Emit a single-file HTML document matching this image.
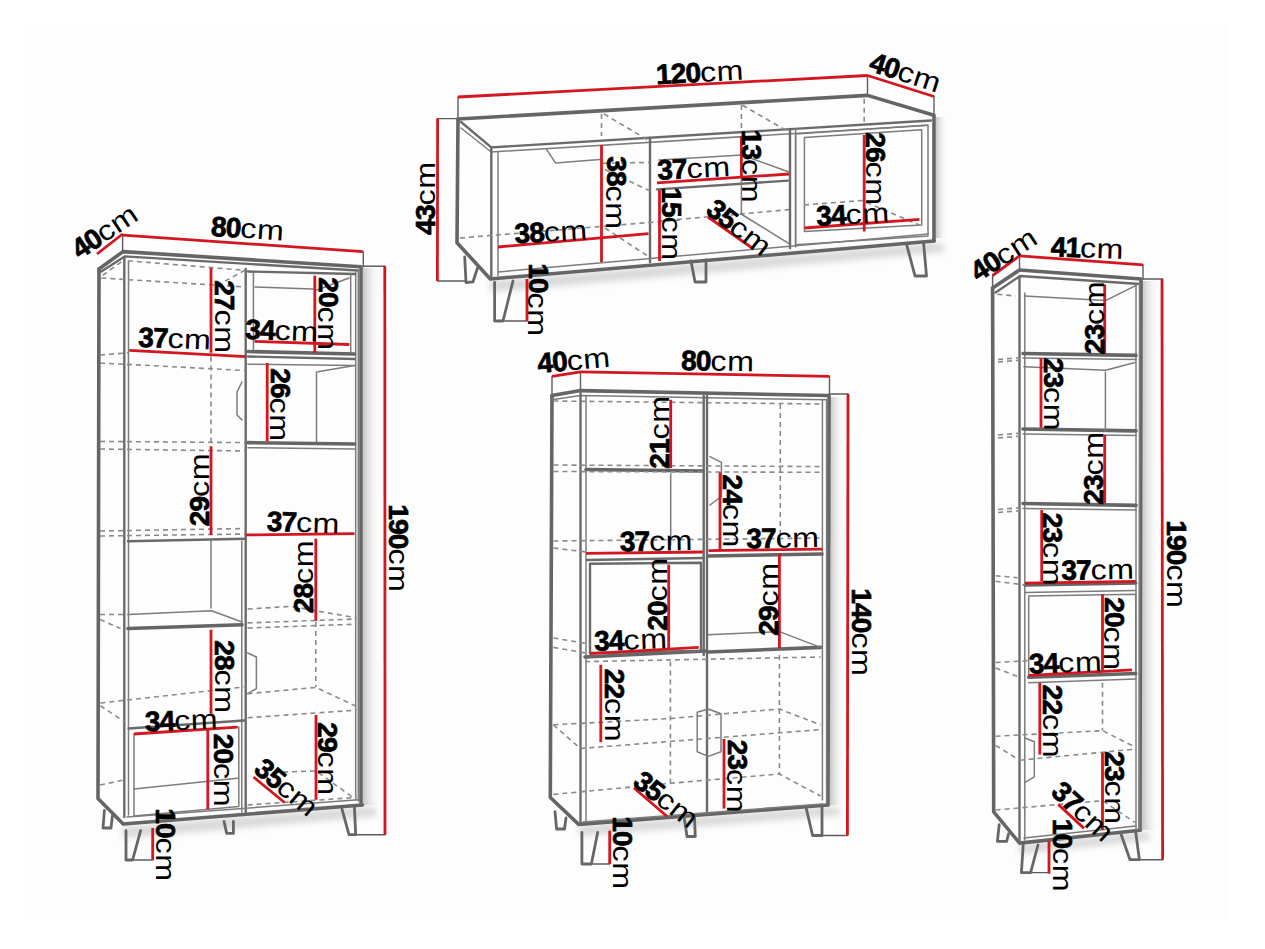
<!DOCTYPE html>
<html><head><meta charset="utf-8"><style>
html,body{margin:0;padding:0;background:#fff;}
svg{display:block;}
polyline,polygon{fill:none;stroke-linejoin:round;stroke-linecap:round;}
.k{stroke:#656565;stroke-width:3.6;}
.m{stroke:#6a6a6a;stroke-width:2.4;}
.t{stroke:#7c7c7c;stroke-width:1.5;}
.g{stroke:#666;stroke-width:2.8;}
.e{stroke:#5c5c5c;stroke-width:1.4;}
.d{stroke:#8a8a8a;stroke-width:1.6;stroke-dasharray:5 4;stroke-linecap:butt;}
.r{stroke:#d3161f;stroke-width:2.8;stroke-linecap:butt;}
.tx{font-family:"Liberation Sans",sans-serif;fill:#000;}
.b{font-weight:bold;stroke:#000;stroke-width:0.7px;}
.u{font-weight:normal;}
</style></head><body>
<svg width="1265" height="949" viewBox="0 0 1265 949">
<defs><linearGradient id="sh" x1="0" x2="1" y1="0" y2="0"><stop offset="0" stop-color="#c6c6c6"/><stop offset="1" stop-color="#fff" stop-opacity="0"/></linearGradient>
<linearGradient id="shb" x1="0" x2="0" y1="0" y2="1"><stop offset="0" stop-color="#d5d5d5"/><stop offset="1" stop-color="#fff" stop-opacity="0"/></linearGradient></defs>
<rect x="0" y="0" width="1265" height="949" fill="#fff"/>
<rect x="24" y="23" width="1203" height="897" fill="#fdfdfd"/>
<rect x="363" y="268" width="19" height="537" fill="url(#sh)"/>
<rect x="830" y="397" width="16" height="408" fill="url(#sh)"/>
<rect x="1142" y="281" width="18" height="549" fill="url(#sh)"/>
<rect x="936" y="117" width="12" height="121" fill="url(#sh)"/>
<filter id="bl" x="-20%" y="-50%" width="140%" height="200%"><feGaussianBlur stdDeviation="3"/></filter>
<g filter="url(#bl)" opacity="0.7">
<polygon style="fill:#c8c8c8;stroke:none" points="490,281 934,243 944,244 944,252 490,292"/>
<polygon style="fill:#c8c8c8;stroke:none" points="123,827 362,807 376,808 376,816 123,838"/>
<polygon style="fill:#c8c8c8;stroke:none" points="579,826 828,807 840,808 840,815 579,836"/>
<polygon style="fill:#c8c8c8;stroke:none" points="1019,845 1140,832 1150,833 1150,840 1019,854"/>
</g>
<polyline class="e" points="458.0,97.0 458.0,119.0"/>
<polyline class="e" points="867.5,75.5 867.5,95.4"/>
<polyline class="e" points="934.0,96.5 934.0,115.3"/>
<polyline class="e" points="437.5,118.6 458.0,118.6"/>
<polyline class="e" points="437.4,281.0 465.0,281.0"/>
<polyline class="e" points="503.0,321.0 527.0,321.0"/>
<polyline class="k" points="458.0,119.0 867.5,95.4 934.0,115.3 934.0,241.0"/>
<polyline class="k" points="458.0,119.0 457.0,242.7 490.3,279.0 934.0,241.0"/>
<polyline class="m" points="461.0,122.0 491.3,147.4 931.0,120.5"/>
<polyline class="t" points="461.0,128.0 491.3,152.0 926.0,125.5"/>
<polyline class="m" points="491.3,147.4 491.3,278.0"/>
<polyline class="t" points="498.0,152.0 498.0,276.0"/>
<polyline class="t" points="546.7,149.6 555.5,162.9 599.8,159.6"/>
<polyline class="m" points="650.0,138.0 650.0,262.0"/>
<polyline class="m" points="790.0,129.0 790.0,248.0"/>
<polyline class="t" points="795.6,128.5 795.6,247.0"/>
<polygon class="t" points="795.6,134.0 928.0,125.0 928.0,236.0 795.6,244.8"/>
<polygon class="t" points="804.4,137.4 921.7,129.7 921.7,224.9 804.4,231.5"/>
<polyline class="m" points="657.0,189.4 787.8,180.6"/>
<polyline class="t" points="659.0,160.0 742.0,155.0 789.0,172.0"/>
<polyline class="t" points="498.0,272.0 928.0,234.0"/>
<polyline class="d" points="460.0,238.0 680.0,220.0"/>
<polyline class="d" points="605.0,228.0 648.4,256.5"/>
<polyline class="d" points="601.5,114.0 601.5,136.0"/>
<polyline class="d" points="604.0,114.0 648.0,140.0"/>
<polyline class="d" points="605.0,169.5 650.0,191.0"/>
<polyline class="d" points="603.0,163.2 650.0,162.4"/>
<polyline class="d" points="659.0,221.0 741.0,214.0 789.0,209.6"/>
<polyline class="t" points="741.0,214.0 789.0,243.6"/>
<polyline class="d" points="741.4,105.0 741.4,132.0"/>
<polyline class="d" points="742.5,105.3 789.0,132.0"/>
<polyline class="t" points="741.4,177.0 741.4,214.0"/>
<polyline class="d" points="864.2,98.7 864.2,123.0"/>
<polyline class="d" points="804.0,205.0 862.0,200.5 919.5,225.0"/>
<polyline class="g" points="464.7,257.0 466.0,282.5 473.0,281.8 477.5,268.0"/>
<polyline class="g" points="494.6,282.5 494.6,321.0 503.0,321.0 513.0,281.0"/>
<polyline class="g" points="691.0,261.0 695.0,282.0 706.0,282.0 706.0,260.0"/>
<polyline class="g" points="906.5,244.0 915.0,276.0 926.5,276.0 923.6,243.0"/>
<polyline class="r" points="458.0,97.0 867.5,75.5"/>
<polyline class="r" points="867.5,75.5 934.0,96.5"/>
<polyline class="r" points="437.6,118.6 437.4,281.0"/>
<polyline class="r" points="527.0,279.0 527.0,321.0"/>
<polyline class="r" points="601.5,145.0 601.5,262.0"/>
<polyline class="r" points="498.0,247.0 648.5,233.7"/>
<polyline class="r" points="659.5,190.0 659.5,261.0"/>
<polyline class="r" points="657.0,182.8 789.0,174.0"/>
<polyline class="r" points="741.4,136.0 741.4,176.0"/>
<polyline class="r" points="708.0,217.0 753.5,249.0"/>
<polyline class="r" points="804.4,228.0 919.5,219.3"/>
<polyline class="r" points="864.2,135.0 864.2,231.5"/>
<g transform="translate(698.0,72.0) rotate(-3)"><text class="tx b" x="-42.2" y="10.0" style="font-size:28px;letter-spacing:-0.8px">120</text><g transform="translate(1.9,0) scale(1.15,1)"><text class="tx u" x="0" y="10.0" style="font-size:28px;letter-spacing:0.5px">cm</text></g></g>
<g transform="translate(904.0,71.5) rotate(18)"><text class="tx b" x="-34.8" y="10.0" style="font-size:28px;letter-spacing:-0.8px">40</text><g transform="translate(-5.5,0) scale(1.15,1)"><text class="tx u" x="0" y="10.0" style="font-size:28px;letter-spacing:0.5px">cm</text></g></g>
<g transform="translate(425.0,200.0) rotate(-90)"><text class="tx b" x="-34.8" y="10.0" style="font-size:28px;letter-spacing:-0.8px">43</text><g transform="translate(-5.5,0) scale(1.15,1)"><text class="tx u" x="0" y="10.0" style="font-size:28px;letter-spacing:0.5px">cm</text></g></g>
<g transform="translate(616.5,191.0) rotate(90)"><text class="tx b" x="-34.8" y="10.0" style="font-size:28px;letter-spacing:-0.8px">38</text><g transform="translate(-5.5,0) scale(1.15,1)"><text class="tx u" x="0" y="10.0" style="font-size:28px;letter-spacing:0.5px">cm</text></g></g>
<g transform="translate(549.2,231.5) rotate(-3)"><text class="tx b" x="-34.8" y="10.0" style="font-size:28px;letter-spacing:-0.8px">38</text><g transform="translate(-5.5,0) scale(1.15,1)"><text class="tx u" x="0" y="10.0" style="font-size:28px;letter-spacing:0.5px">cm</text></g></g>
<g transform="translate(692.0,168.0) rotate(-3)"><text class="tx b" x="-34.8" y="10.0" style="font-size:28px;letter-spacing:-0.8px">37</text><g transform="translate(-5.5,0) scale(1.15,1)"><text class="tx u" x="0" y="10.0" style="font-size:28px;letter-spacing:0.5px">cm</text></g></g>
<g transform="translate(752.0,164.5) rotate(90)"><text class="tx b" x="-34.8" y="10.0" style="font-size:28px;letter-spacing:-0.8px">13</text><g transform="translate(-5.5,0) scale(1.15,1)"><text class="tx u" x="0" y="10.0" style="font-size:28px;letter-spacing:0.5px">cm</text></g></g>
<g transform="translate(876.0,167.0) rotate(90)"><text class="tx b" x="-34.8" y="10.0" style="font-size:28px;letter-spacing:-0.8px">26</text><g transform="translate(-5.5,0) scale(1.15,1)"><text class="tx u" x="0" y="10.0" style="font-size:28px;letter-spacing:0.5px">cm</text></g></g>
<g transform="translate(672.0,222.0) rotate(90)"><text class="tx b" x="-34.8" y="10.0" style="font-size:28px;letter-spacing:-0.8px">15</text><g transform="translate(-5.5,0) scale(1.15,1)"><text class="tx u" x="0" y="10.0" style="font-size:28px;letter-spacing:0.5px">cm</text></g></g>
<g transform="translate(738.0,226.0) rotate(38)"><text class="tx b" x="-34.8" y="10.0" style="font-size:28px;letter-spacing:-0.8px">35</text><g transform="translate(-5.5,0) scale(1.15,1)"><text class="tx u" x="0" y="10.0" style="font-size:28px;letter-spacing:0.5px">cm</text></g></g>
<g transform="translate(851.0,214.0) rotate(-3)"><text class="tx b" x="-34.8" y="10.0" style="font-size:28px;letter-spacing:-0.8px">34</text><g transform="translate(-5.5,0) scale(1.15,1)"><text class="tx u" x="0" y="10.0" style="font-size:28px;letter-spacing:0.5px">cm</text></g></g>
<g transform="translate(538.5,298.0) rotate(90)"><text class="tx b" x="-34.8" y="10.0" style="font-size:28px;letter-spacing:-0.8px">10</text><g transform="translate(-5.5,0) scale(1.15,1)"><text class="tx u" x="0" y="10.0" style="font-size:28px;letter-spacing:0.5px">cm</text></g></g>
<polyline class="e" points="122.6,234.0 122.6,250.5"/>
<polyline class="e" points="363.3,251.6 363.3,266.8"/>
<polyline class="e" points="363.0,266.3 385.0,266.3"/>
<polyline class="e" points="355.7,834.7 385.0,834.7"/>
<polyline class="e" points="132.6,860.0 152.7,860.0"/>
<polyline class="k" points="99.0,269.0 123.0,251.6 361.0,266.8 361.0,805.0"/>
<polyline class="k" points="99.0,269.0 98.0,798.4 123.2,824.0 362.4,805.0"/>
<polyline class="m" points="101.3,271.6 124.7,256.4 358.0,270.5"/>
<polyline class="m" points="124.3,258.0 124.3,817.0"/>
<polyline class="t" points="128.5,262.0 128.5,815.0"/>
<polyline class="t" points="355.7,272.0 355.7,800.0"/>
<polyline class="t" points="358.3,271.0 358.3,801.0"/>
<polyline class="m" points="245.7,269.0 245.7,812.0"/>
<polyline class="t" points="241.8,541.0 241.8,812.0"/>
<polyline class="t" points="127.0,817.0 358.4,799.8"/>
<polyline class="d" points="127.9,260.8 244.9,270.3 221.5,283.0"/>
<polyline class="d" points="102.6,275.4 124.0,260.0"/>
<polyline class="d" points="101.3,278.0 245.7,287.0"/>
<polyline class="m" points="248.0,271.5 355.0,274.0"/>
<polyline class="t" points="253.4,272.0 253.4,352.0"/>
<polyline class="t" points="350.7,274.0 350.7,352.0"/>
<polyline class="t" points="255.0,287.0 313.0,289.0"/>
<polyline class="t" points="317.0,290.0 349.0,278.0"/>
<polyline class="m" points="248.0,356.5 354.5,359.0"/>
<polyline class="k" points="248.0,351.5 354.5,354.0"/>
<polyline class="t" points="248.0,364.2 354.5,365.5"/>
<polyline class="t" points="317.8,371.8 354.5,365.5"/>
<polyline class="t" points="316.5,372.0 316.5,442.0"/>
<polyline class="k" points="248.0,442.6 354.5,444.0"/>
<polyline class="t" points="248.0,447.7 354.5,449.0"/>
<polyline class="t" points="242.0,382.0 237.0,392.0 237.0,415.0 242.0,420.0"/>
<polyline class="d" points="100.0,355.0 128.0,352.8"/>
<polyline class="d" points="100.0,363.0 245.7,370.5"/>
<polyline class="d" points="211.0,356.6 211.0,442.6"/>
<polyline class="d" points="100.0,441.4 245.7,442.6"/>
<polyline class="d" points="100.0,449.0 245.7,451.0"/>
<polyline class="d" points="100.0,531.0 245.7,528.5"/>
<polyline class="d" points="100.0,536.0 245.7,534.0"/>
<polyline class="m" points="128.0,541.2 245.7,538.7"/>
<polyline class="t" points="211.0,541.0 211.0,608.0"/>
<polyline class="d" points="247.6,609.0 290.6,606.4 356.4,617.8"/>
<polyline class="d" points="247.6,622.9 356.4,619.0"/>
<polyline class="d" points="247.6,628.0 356.4,624.2"/>
<polyline class="d" points="315.8,622.0 315.8,687.0"/>
<polyline class="t" points="128.0,614.5 211.5,610.7 242.0,622.0"/>
<polyline class="k" points="128.0,628.5 242.0,624.7"/>
<polyline class="d" points="100.0,614.5 128.0,614.5"/>
<polyline class="d" points="100.0,619.6 120.5,628.5"/>
<polyline class="t" points="247.6,653.0 256.4,657.0 256.4,688.7 247.6,693.7"/>
<polyline class="d" points="100.3,703.0 244.0,687.0"/>
<polyline class="d" points="247.6,693.7 315.9,687.4 356.4,706.4"/>
<polyline class="d" points="100.3,705.7 124.5,721.8"/>
<polyline class="d" points="247.6,717.7 356.4,710.2"/>
<polyline class="d" points="283.0,772.0 315.9,770.9 356.4,800.0"/>
<polyline class="m" points="128.5,728.5 244.0,720.5"/>
<polygon class="t" points="134.0,734.0 238.8,727.0 238.8,806.5 134.0,816.0"/>
<polyline class="t" points="134.0,789.0 237.4,778.3"/>
<polyline class="d" points="100.0,785.0 124.0,780.0"/>
<polyline class="d" points="247.6,805.0 356.4,797.4"/>
<polyline class="g" points="104.4,810.5 103.0,828.0 111.0,828.0 112.4,816.0"/>
<polyline class="g" points="126.0,830.7 126.0,860.0 132.6,860.0 140.6,830.7"/>
<polyline class="g" points="224.0,821.3 226.7,833.4 233.4,833.4 233.4,821.3"/>
<polyline class="g" points="342.0,809.2 349.0,834.7 355.7,834.7 354.4,806.5"/>
<polyline class="r" points="97.0,254.0 122.6,234.0"/>
<polyline class="r" points="123.0,235.2 362.8,251.6"/>
<polyline class="r" points="384.8,266.0 385.0,834.7"/>
<polyline class="r" points="211.0,268.0 211.0,352.8"/>
<polyline class="r" points="129.3,350.3 245.7,356.6"/>
<polyline class="r" points="254.5,341.4 349.4,344.5"/>
<polyline class="r" points="314.8,275.7 314.8,352.8"/>
<polyline class="r" points="267.2,363.0 267.2,441.4"/>
<polyline class="r" points="211.0,446.3 211.0,534.9"/>
<polyline class="r" points="245.7,534.9 354.5,533.6"/>
<polyline class="r" points="315.8,538.7 315.8,620.9"/>
<polyline class="r" points="211.0,629.7 211.0,713.8"/>
<polyline class="r" points="134.0,734.0 237.4,727.2"/>
<polyline class="r" points="207.8,730.0 207.8,809.2"/>
<polyline class="r" points="316.0,715.0 316.0,799.8"/>
<polyline class="r" points="253.5,777.0 284.5,802.5"/>
<polyline class="r" points="152.7,828.0 152.7,860.0"/>
<g transform="translate(103.0,232.0) rotate(-34)"><text class="tx b" x="-34.8" y="10.0" style="font-size:28px;letter-spacing:-0.8px">40</text><g transform="translate(-5.5,0) scale(1.15,1)"><text class="tx u" x="0" y="10.0" style="font-size:28px;letter-spacing:0.5px">cm</text></g></g>
<g transform="translate(246.0,228.0) rotate(3.8)"><text class="tx b" x="-34.8" y="10.0" style="font-size:28px;letter-spacing:-0.8px">80</text><g transform="translate(-5.5,0) scale(1.15,1)"><text class="tx u" x="0" y="10.0" style="font-size:28px;letter-spacing:0.5px">cm</text></g></g>
<g transform="translate(225.0,315.0) rotate(90)"><text class="tx b" x="-34.8" y="10.0" style="font-size:28px;letter-spacing:-0.8px">27</text><g transform="translate(-5.5,0) scale(1.15,1)"><text class="tx u" x="0" y="10.0" style="font-size:28px;letter-spacing:0.5px">cm</text></g></g>
<g transform="translate(173.0,338.0) rotate(2)"><text class="tx b" x="-34.8" y="10.0" style="font-size:28px;letter-spacing:-0.8px">37</text><g transform="translate(-5.5,0) scale(1.15,1)"><text class="tx u" x="0" y="10.0" style="font-size:28px;letter-spacing:0.5px">cm</text></g></g>
<g transform="translate(280.0,330.0) rotate(2)"><text class="tx b" x="-34.8" y="10.0" style="font-size:28px;letter-spacing:-0.8px">34</text><g transform="translate(-5.5,0) scale(1.15,1)"><text class="tx u" x="0" y="10.0" style="font-size:28px;letter-spacing:0.5px">cm</text></g></g>
<g transform="translate(328.5,312.0) rotate(90)"><text class="tx b" x="-34.8" y="10.0" style="font-size:28px;letter-spacing:-0.8px">20</text><g transform="translate(-5.5,0) scale(1.15,1)"><text class="tx u" x="0" y="10.0" style="font-size:28px;letter-spacing:0.5px">cm</text></g></g>
<g transform="translate(280.5,403.0) rotate(90)"><text class="tx b" x="-34.8" y="10.0" style="font-size:28px;letter-spacing:-0.8px">26</text><g transform="translate(-5.5,0) scale(1.15,1)"><text class="tx u" x="0" y="10.0" style="font-size:28px;letter-spacing:0.5px">cm</text></g></g>
<g transform="translate(198.5,491.5) rotate(-90)"><text class="tx b" x="-34.8" y="10.0" style="font-size:28px;letter-spacing:-0.8px">29</text><g transform="translate(-5.5,0) scale(1.15,1)"><text class="tx u" x="0" y="10.0" style="font-size:28px;letter-spacing:0.5px">cm</text></g></g>
<g transform="translate(301.5,522.0) rotate(2)"><text class="tx b" x="-34.8" y="10.0" style="font-size:28px;letter-spacing:-0.8px">37</text><g transform="translate(-5.5,0) scale(1.15,1)"><text class="tx u" x="0" y="10.0" style="font-size:28px;letter-spacing:0.5px">cm</text></g></g>
<g transform="translate(303.0,578.5) rotate(-90)"><text class="tx b" x="-34.8" y="10.0" style="font-size:28px;letter-spacing:-0.8px">28</text><g transform="translate(-5.5,0) scale(1.15,1)"><text class="tx u" x="0" y="10.0" style="font-size:28px;letter-spacing:0.5px">cm</text></g></g>
<g transform="translate(399.0,546.5) rotate(90)"><text class="tx b" x="-42.2" y="10.0" style="font-size:28px;letter-spacing:-0.8px">190</text><g transform="translate(1.9,0) scale(1.15,1)"><text class="tx u" x="0" y="10.0" style="font-size:28px;letter-spacing:0.5px">cm</text></g></g>
<g transform="translate(225.0,675.0) rotate(90)"><text class="tx b" x="-34.8" y="10.0" style="font-size:28px;letter-spacing:-0.8px">28</text><g transform="translate(-5.5,0) scale(1.15,1)"><text class="tx u" x="0" y="10.0" style="font-size:28px;letter-spacing:0.5px">cm</text></g></g>
<g transform="translate(179.6,720.0) rotate(-2)"><text class="tx b" x="-34.8" y="10.0" style="font-size:28px;letter-spacing:-0.8px">34</text><g transform="translate(-5.5,0) scale(1.15,1)"><text class="tx u" x="0" y="10.0" style="font-size:28px;letter-spacing:0.5px">cm</text></g></g>
<g transform="translate(224.0,768.5) rotate(90)"><text class="tx b" x="-34.8" y="10.0" style="font-size:28px;letter-spacing:-0.8px">20</text><g transform="translate(-5.5,0) scale(1.15,1)"><text class="tx u" x="0" y="10.0" style="font-size:28px;letter-spacing:0.5px">cm</text></g></g>
<g transform="translate(328.0,757.0) rotate(90)"><text class="tx b" x="-34.8" y="10.0" style="font-size:28px;letter-spacing:-0.8px">29</text><g transform="translate(-5.5,0) scale(1.15,1)"><text class="tx u" x="0" y="10.0" style="font-size:28px;letter-spacing:0.5px">cm</text></g></g>
<g transform="translate(285.5,786.0) rotate(40)"><text class="tx b" x="-34.8" y="10.0" style="font-size:28px;letter-spacing:-0.8px">35</text><g transform="translate(-5.5,0) scale(1.15,1)"><text class="tx u" x="0" y="10.0" style="font-size:28px;letter-spacing:0.5px">cm</text></g></g>
<g transform="translate(166.0,843.0) rotate(90)"><text class="tx b" x="-34.8" y="10.0" style="font-size:28px;letter-spacing:-0.8px">10</text><g transform="translate(-5.5,0) scale(1.15,1)"><text class="tx u" x="0" y="10.0" style="font-size:28px;letter-spacing:0.5px">cm</text></g></g>
<polyline class="e" points="552.0,376.4 552.0,394.0"/>
<polyline class="e" points="580.5,372.0 580.5,389.8"/>
<polyline class="e" points="829.5,376.4 829.5,394.0"/>
<polyline class="e" points="829.5,394.0 848.0,394.0"/>
<polyline class="e" points="822.0,835.5 847.4,835.5"/>
<polyline class="e" points="591.4,864.0 609.7,864.0"/>
<polyline class="k" points="552.0,395.5 580.5,390.6 829.0,395.5 828.0,805.0"/>
<polyline class="k" points="552.0,395.5 550.3,797.5 578.7,824.4 828.0,805.0"/>
<polyline class="t" points="552.0,399.8 580.5,395.5 826.6,399.8"/>
<polyline class="d" points="553.5,401.0 822.0,404.0"/>
<polyline class="m" points="580.5,391.0 580.5,824.0"/>
<polyline class="t" points="586.0,396.0 586.0,822.0"/>
<polyline class="m" points="703.7,396.0 703.7,655.0"/>
<polyline class="m" points="707.0,396.0 707.0,812.0"/>
<polyline class="t" points="822.4,400.0 822.4,800.0"/>
<polyline class="t" points="826.6,400.0 826.6,802.0"/>
<polyline class="k" points="586.0,469.5 702.8,471.0"/>
<polyline class="d" points="553.5,465.0 822.4,466.6"/>
<polyline class="d" points="553.5,471.5 822.0,472.3"/>
<polyline class="t" points="670.7,473.7 670.7,545.0"/>
<polyline class="d" points="780.3,404.0 780.3,545.0"/>
<polyline class="t" points="710.0,456.7 721.4,462.4 721.4,496.5 710.0,505.0"/>
<polyline class="d" points="553.5,541.0 822.0,538.0"/>
<polyline class="d" points="553.5,548.0 586.0,552.0"/>
<polyline class="m" points="587.0,560.0 703.5,558.0"/>
<polyline class="k" points="708.5,556.0 822.0,554.0"/>
<polyline class="k" points="585.0,657.0 706.0,651.0"/>
<polygon class="m" points="590.0,563.7 701.0,562.7 701.0,651.0 590.0,653.0"/>
<polyline class="d" points="553.4,638.0 589.8,644.0"/>
<polyline class="d" points="553.4,647.4 589.8,653.7"/>
<polyline class="k" points="708.3,652.0 820.5,647.4"/>
<polyline class="t" points="708.0,634.8 779.4,631.6 820.5,647.4"/>
<polyline class="d" points="585.0,661.6 820.5,657.0"/>
<polyline class="d" points="670.4,661.6 670.4,783.3"/>
<polyline class="d" points="779.4,655.0 779.4,774.0"/>
<polyline class="d" points="553.4,724.8 670.4,718.5 779.4,709.0 820.5,724.8"/>
<polyline class="d" points="580.3,748.5 820.5,729.6"/>
<polyline class="d" points="553.4,724.8 580.3,748.5"/>
<polygon class="t" points="697.2,712.2 708.3,709.0 721.0,713.8 721.0,751.7 708.3,756.4 697.2,751.7"/>
<polyline class="d" points="553.4,794.4 670.4,783.3 779.4,774.0 820.5,796.0"/>
<polyline class="t" points="583.0,822.0 823.0,804.0"/>
<polyline class="g" points="555.0,811.7 556.6,829.0 564.5,829.0 566.0,818.0"/>
<polyline class="g" points="581.9,832.3 581.9,864.0 591.4,864.0 597.7,832.3"/>
<polyline class="g" points="684.4,819.0 687.0,836.5 695.3,836.5 694.5,818.0"/>
<polyline class="g" points="806.3,808.6 812.6,835.5 822.0,835.5 822.0,807.0"/>
<polyline class="r" points="552.0,376.4 580.5,371.9"/>
<polyline class="r" points="580.5,371.9 829.5,376.4"/>
<polyline class="r" points="848.0,394.0 847.4,835.5"/>
<polyline class="r" points="670.7,399.8 670.7,468.0"/>
<polyline class="r" points="720.0,472.3 720.0,550.6"/>
<polyline class="r" points="586.0,553.4 702.8,552.0"/>
<polyline class="r" points="708.5,550.6 822.4,549.2"/>
<polyline class="r" points="668.7,564.8 668.7,649.0"/>
<polyline class="r" points="589.8,653.7 698.8,647.4"/>
<polyline class="r" points="779.4,553.7 779.4,648.0"/>
<polyline class="r" points="600.8,664.8 600.8,742.2"/>
<polyline class="r" points="724.0,739.0 724.0,808.6"/>
<polyline class="r" points="634.0,788.0 667.2,816.5"/>
<polyline class="r" points="609.7,830.7 609.7,864.0"/>
<g transform="translate(572.0,360.0) rotate(-5)"><text class="tx b" x="-34.8" y="10.0" style="font-size:28px;letter-spacing:-0.8px">40</text><g transform="translate(-5.5,0) scale(1.15,1)"><text class="tx u" x="0" y="10.0" style="font-size:28px;letter-spacing:0.5px">cm</text></g></g>
<g transform="translate(716.0,360.5) rotate(1)"><text class="tx b" x="-34.8" y="10.0" style="font-size:28px;letter-spacing:-0.8px">80</text><g transform="translate(-5.5,0) scale(1.15,1)"><text class="tx u" x="0" y="10.0" style="font-size:28px;letter-spacing:0.5px">cm</text></g></g>
<g transform="translate(658.7,434.0) rotate(-90)"><text class="tx b" x="-34.8" y="10.0" style="font-size:28px;letter-spacing:-0.8px">21</text><g transform="translate(-5.5,0) scale(1.15,1)"><text class="tx u" x="0" y="10.0" style="font-size:28px;letter-spacing:0.5px">cm</text></g></g>
<g transform="translate(732.7,509.4) rotate(90)"><text class="tx b" x="-34.8" y="10.0" style="font-size:28px;letter-spacing:-0.8px">24</text><g transform="translate(-5.5,0) scale(1.15,1)"><text class="tx u" x="0" y="10.0" style="font-size:28px;letter-spacing:0.5px">cm</text></g></g>
<g transform="translate(654.5,540.6) rotate(-1)"><text class="tx b" x="-34.8" y="10.0" style="font-size:28px;letter-spacing:-0.8px">37</text><g transform="translate(-5.5,0) scale(1.15,1)"><text class="tx u" x="0" y="10.0" style="font-size:28px;letter-spacing:0.5px">cm</text></g></g>
<g transform="translate(781.0,537.7) rotate(-1)"><text class="tx b" x="-34.8" y="10.0" style="font-size:28px;letter-spacing:-0.8px">37</text><g transform="translate(-5.5,0) scale(1.15,1)"><text class="tx u" x="0" y="10.0" style="font-size:28px;letter-spacing:0.5px">cm</text></g></g>
<g transform="translate(657.0,596.0) rotate(-90)"><text class="tx b" x="-34.8" y="10.0" style="font-size:28px;letter-spacing:-0.8px">20</text><g transform="translate(-5.5,0) scale(1.15,1)"><text class="tx u" x="0" y="10.0" style="font-size:28px;letter-spacing:0.5px">cm</text></g></g>
<g transform="translate(767.5,601.0) rotate(-90)"><text class="tx b" x="-34.8" y="10.0" style="font-size:28px;letter-spacing:-0.8px">29</text><g transform="translate(-5.5,0) scale(1.15,1)"><text class="tx u" x="0" y="10.0" style="font-size:28px;letter-spacing:0.5px">cm</text></g></g>
<g transform="translate(862.0,630.5) rotate(90)"><text class="tx b" x="-42.2" y="10.0" style="font-size:28px;letter-spacing:-0.8px">140</text><g transform="translate(1.9,0) scale(1.15,1)"><text class="tx u" x="0" y="10.0" style="font-size:28px;letter-spacing:0.5px">cm</text></g></g>
<g transform="translate(629.0,639.5) rotate(-2)"><text class="tx b" x="-34.8" y="10.0" style="font-size:28px;letter-spacing:-0.8px">34</text><g transform="translate(-5.5,0) scale(1.15,1)"><text class="tx u" x="0" y="10.0" style="font-size:28px;letter-spacing:0.5px">cm</text></g></g>
<g transform="translate(615.0,703.5) rotate(90)"><text class="tx b" x="-34.8" y="10.0" style="font-size:28px;letter-spacing:-0.8px">22</text><g transform="translate(-5.5,0) scale(1.15,1)"><text class="tx u" x="0" y="10.0" style="font-size:28px;letter-spacing:0.5px">cm</text></g></g>
<g transform="translate(737.5,774.5) rotate(90)"><text class="tx b" x="-34.8" y="10.0" style="font-size:28px;letter-spacing:-0.8px">23</text><g transform="translate(-5.5,0) scale(1.15,1)"><text class="tx u" x="0" y="10.0" style="font-size:28px;letter-spacing:0.5px">cm</text></g></g>
<g transform="translate(665.0,798.0) rotate(38)"><text class="tx b" x="-34.8" y="10.0" style="font-size:28px;letter-spacing:-0.8px">35</text><g transform="translate(-5.5,0) scale(1.15,1)"><text class="tx u" x="0" y="10.0" style="font-size:28px;letter-spacing:0.5px">cm</text></g></g>
<g transform="translate(623.0,851.0) rotate(90)"><text class="tx b" x="-34.8" y="10.0" style="font-size:28px;letter-spacing:-0.8px">10</text><g transform="translate(-5.5,0) scale(1.15,1)"><text class="tx u" x="0" y="10.0" style="font-size:28px;letter-spacing:0.5px">cm</text></g></g>
<polyline class="e" points="1019.5,255.8 1019.5,270.0"/>
<polyline class="e" points="1143.0,264.8 1143.0,279.0"/>
<polyline class="e" points="992.6,275.5 992.6,288.0"/>
<polyline class="e" points="1143.0,279.0 1162.7,279.0"/>
<polyline class="e" points="1135.7,859.7 1162.6,859.7"/>
<polyline class="e" points="1030.6,872.6 1049.0,872.6"/>
<polyline class="k" points="992.6,288.0 1019.5,270.0 1141.0,279.0 1140.0,830.2"/>
<polyline class="k" points="992.6,288.0 993.7,811.8 1019.5,843.1 1140.0,830.2"/>
<polyline class="m" points="995.6,292.6 1020.0,276.0 1140.0,284.0"/>
<polyline class="m" points="1019.5,277.0 1019.5,843.0"/>
<polyline class="t" points="1024.8,293.0 1024.8,840.0"/>
<polyline class="t" points="1136.0,284.5 1136.0,830.0"/>
<polyline class="t" points="1139.5,283.0 1139.5,830.0"/>
<polyline class="d" points="997.4,294.3 1015.6,296.0"/>
<polyline class="t" points="1024.3,296.0 1106.0,300.4 1135.7,285.6"/>
<polyline class="k" points="1023.0,353.5 1136.0,355.4"/>
<polyline class="t" points="1023.0,358.0 1136.0,359.5"/>
<polyline class="d" points="998.0,359.5 1023.0,357.5"/>
<polyline class="d" points="998.0,362.0 1023.0,360.0"/>
<polyline class="k" points="1023.0,429.0 1136.0,430.9"/>
<polyline class="t" points="1023.0,434.0 1136.0,435.5"/>
<polyline class="d" points="998.0,435.0 1023.0,433.0"/>
<polyline class="d" points="998.0,438.0 1023.0,436.0"/>
<polyline class="k" points="1023.0,503.5 1136.0,505.4"/>
<polyline class="t" points="1023.0,508.5 1136.0,510.0"/>
<polyline class="d" points="998.0,509.5 1023.0,507.5"/>
<polyline class="d" points="998.0,512.5 1023.0,510.5"/>
<polyline class="t" points="1024.0,366.8 1105.6,370.2 1135.0,362.6"/>
<polyline class="t" points="1105.4,372.0 1105.4,431.0"/>
<polyline class="k" points="1025.0,585.0 1135.7,583.0"/>
<polyline class="t" points="1025.0,592.4 1135.7,590.6"/>
<polyline class="d" points="995.6,575.8 1017.7,577.7"/>
<polyline class="d" points="995.6,581.3 1025.0,585.0"/>
<polygon class="t" points="1028.7,596.0 1135.7,594.2 1135.7,673.5 1028.7,677.2"/>
<polyline class="d" points="995.6,662.5 1028.7,660.6"/>
<polyline class="d" points="995.6,668.0 1019.5,677.2"/>
<polyline class="k" points="1028.7,677.2 1135.7,673.5"/>
<polyline class="t" points="1028.7,682.7 1135.7,679.0"/>
<polyline class="d" points="1102.5,682.7 1102.5,730.7"/>
<polyline class="d" points="995.6,736.2 1102.5,730.7 1135.7,747.3"/>
<polyline class="d" points="1019.5,760.2 1135.7,749.1"/>
<polyline class="d" points="995.6,745.4 1019.5,760.2"/>
<polyline class="t" points="1025.0,738.0 1034.3,741.7 1034.3,776.8 1025.0,782.3"/>
<polyline class="d" points="995.6,810.0 1102.5,800.7 1135.7,822.9"/>
<polyline class="t" points="1024.0,838.0 1136.0,826.0"/>
<polyline class="g" points="999.2,824.7 997.4,841.3 1006.6,841.3 1008.5,834.0"/>
<polyline class="g" points="1023.2,845.0 1021.4,872.6 1030.6,872.6 1038.0,845.0"/>
<polyline class="g" points="1121.0,834.0 1130.0,859.7 1139.4,859.7 1135.7,832.0"/>
<polyline class="r" points="992.6,275.5 1019.5,255.8"/>
<polyline class="r" points="1019.5,255.8 1143.0,264.8"/>
<polyline class="r" points="1162.0,279.0 1162.6,859.7"/>
<polyline class="r" points="1104.7,284.5 1104.7,354.3"/>
<polyline class="r" points="1041.0,358.0 1041.0,427.7"/>
<polyline class="r" points="1104.7,435.0 1104.7,503.0"/>
<polyline class="r" points="1041.7,510.0 1041.7,581.3"/>
<polyline class="r" points="1025.0,583.2 1135.7,581.3"/>
<polyline class="r" points="1102.5,594.2 1102.5,671.7"/>
<polyline class="r" points="1028.7,675.4 1132.0,669.8"/>
<polyline class="r" points="1039.8,682.7 1039.8,754.6"/>
<polyline class="r" points="1102.5,752.8 1102.5,830.2"/>
<polyline class="r" points="1058.2,804.4 1084.0,828.4"/>
<polyline class="r" points="1049.0,841.0 1049.0,873.6"/>
<g transform="translate(1002.0,255.0) rotate(-33)"><text class="tx b" x="-34.8" y="10.0" style="font-size:28px;letter-spacing:-0.8px">40</text><g transform="translate(-5.5,0) scale(1.15,1)"><text class="tx u" x="0" y="10.0" style="font-size:28px;letter-spacing:0.5px">cm</text></g></g>
<g transform="translate(1085.5,247.5) rotate(2)"><text class="tx b" x="-34.8" y="10.0" style="font-size:28px;letter-spacing:-0.8px">41</text><g transform="translate(-5.5,0) scale(1.15,1)"><text class="tx u" x="0" y="10.0" style="font-size:28px;letter-spacing:0.5px">cm</text></g></g>
<g transform="translate(1093.7,319.4) rotate(-90)"><text class="tx b" x="-34.8" y="10.0" style="font-size:28px;letter-spacing:-0.8px">23</text><g transform="translate(-5.5,0) scale(1.15,1)"><text class="tx u" x="0" y="10.0" style="font-size:28px;letter-spacing:0.5px">cm</text></g></g>
<g transform="translate(1054.0,392.5) rotate(90)"><text class="tx b" x="-34.8" y="10.0" style="font-size:28px;letter-spacing:-0.8px">23</text><g transform="translate(-5.5,0) scale(1.15,1)"><text class="tx u" x="0" y="10.0" style="font-size:28px;letter-spacing:0.5px">cm</text></g></g>
<g transform="translate(1093.0,470.0) rotate(-90)"><text class="tx b" x="-34.8" y="10.0" style="font-size:28px;letter-spacing:-0.8px">23</text><g transform="translate(-5.5,0) scale(1.15,1)"><text class="tx u" x="0" y="10.0" style="font-size:28px;letter-spacing:0.5px">cm</text></g></g>
<g transform="translate(1053.3,547.5) rotate(90)"><text class="tx b" x="-34.8" y="10.0" style="font-size:28px;letter-spacing:-0.8px">23</text><g transform="translate(-5.5,0) scale(1.15,1)"><text class="tx u" x="0" y="10.0" style="font-size:28px;letter-spacing:0.5px">cm</text></g></g>
<g transform="translate(1177.0,562.5) rotate(90)"><text class="tx b" x="-42.2" y="10.0" style="font-size:28px;letter-spacing:-0.8px">190</text><g transform="translate(1.9,0) scale(1.15,1)"><text class="tx u" x="0" y="10.0" style="font-size:28px;letter-spacing:0.5px">cm</text></g></g>
<g transform="translate(1096.0,569.4) rotate(-1)"><text class="tx b" x="-34.8" y="10.0" style="font-size:28px;letter-spacing:-0.8px">37</text><g transform="translate(-5.5,0) scale(1.15,1)"><text class="tx u" x="0" y="10.0" style="font-size:28px;letter-spacing:0.5px">cm</text></g></g>
<g transform="translate(1114.5,632.0) rotate(90)"><text class="tx b" x="-34.8" y="10.0" style="font-size:28px;letter-spacing:-0.8px">20</text><g transform="translate(-5.5,0) scale(1.15,1)"><text class="tx u" x="0" y="10.0" style="font-size:28px;letter-spacing:0.5px">cm</text></g></g>
<g transform="translate(1063.7,662.3) rotate(-2)"><text class="tx b" x="-34.8" y="10.0" style="font-size:28px;letter-spacing:-0.8px">34</text><g transform="translate(-5.5,0) scale(1.15,1)"><text class="tx u" x="0" y="10.0" style="font-size:28px;letter-spacing:0.5px">cm</text></g></g>
<g transform="translate(1052.7,719.6) rotate(90)"><text class="tx b" x="-34.8" y="10.0" style="font-size:28px;letter-spacing:-0.8px">22</text><g transform="translate(-5.5,0) scale(1.15,1)"><text class="tx u" x="0" y="10.0" style="font-size:28px;letter-spacing:0.5px">cm</text></g></g>
<g transform="translate(1115.4,786.0) rotate(90)"><text class="tx b" x="-34.8" y="10.0" style="font-size:28px;letter-spacing:-0.8px">23</text><g transform="translate(-5.5,0) scale(1.15,1)"><text class="tx u" x="0" y="10.0" style="font-size:28px;letter-spacing:0.5px">cm</text></g></g>
<g transform="translate(1082.0,810.0) rotate(43)"><text class="tx b" x="-34.8" y="10.0" style="font-size:28px;letter-spacing:-0.8px">37</text><g transform="translate(-5.5,0) scale(1.15,1)"><text class="tx u" x="0" y="10.0" style="font-size:28px;letter-spacing:0.5px">cm</text></g></g>
<g transform="translate(1062.6,853.5) rotate(90)"><text class="tx b" x="-34.8" y="10.0" style="font-size:28px;letter-spacing:-0.8px">10</text><g transform="translate(-5.5,0) scale(1.15,1)"><text class="tx u" x="0" y="10.0" style="font-size:28px;letter-spacing:0.5px">cm</text></g></g>
</svg>
</body></html>
